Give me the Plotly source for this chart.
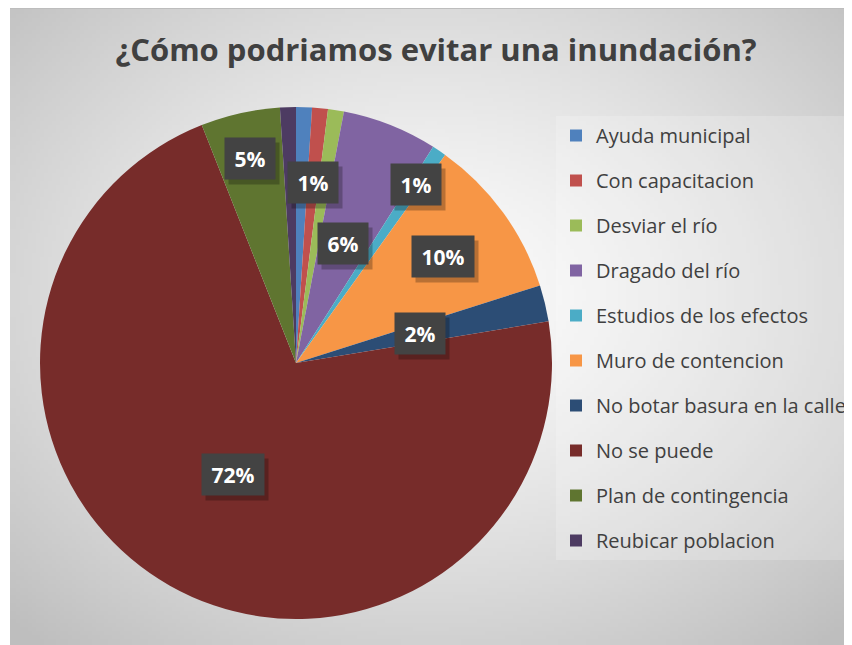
import base64, math, struct, zlib
import plotly.graph_objects as go

# ---------------- data ----------------
categories = ["Ayuda municipal", "Con capacitacion", "Desviar el río", "Dragado del río",
              "Estudios de los efectos", "Muro de contencion", "No botar basura en la calle",
              "No se puede", "Plan de contingencia", "Reubicar poblacion"]
values = [1.0, 1.0, 1.0, 6.0, 0.9, 10.2, 2.3, 71.6, 5.0, 1.0]
colors = ["#4F81BD", "#C0504D", "#9BBB59", "#8064A2", "#4BACC6",
          "#F79646", "#2C4D75", "#772C2A", "#5F7530", "#4D3B62"]
# which data labels are displayed and at what fraction of the radius
label_radius = [None, 0.71, None, 0.50, 0.84, 0.71, 0.50, 0.50, 0.82, None]

OFF = 8                      # page margin of the html body
W, H = 852 - OFF, 645 - OFF  # figure size
CX, CY, R = 296, 363, 256    # pie centre / radius in page pixels


def px2x(px):
    return (px - OFF) / W


def py2y(py):
    return 1 - (py - OFF) / H


# ---------------- background gradient (PNG built in memory) ----------------
def make_png(w, h):
    rows = []
    for j in range(h):
        row = bytearray([0])
        for i in range(w):
            dx = (i + 0.5) / w - 0.5
            dy = (j + 0.5) / h - 0.45
            t = min(1.0, math.sqrt(dx * dx + dy * dy) / 0.72)
            v = int(round(252 - (252 - 190) * t ** 1.3))
            row += bytes([v, v, v])
        rows.append(bytes(row))
    raw = b"".join(rows)

    def chunk(tag, data):
        c = struct.pack(">I", len(data)) + tag + data
        return c + struct.pack(">I", zlib.crc32(tag + data) & 0xffffffff)
    png = b"\x89PNG\r\n\x1a\n"
    png += chunk(b"IHDR", struct.pack(">IIBBBBB", w, h, 8, 2, 0, 0, 0))
    png += chunk(b"IDAT", zlib.compress(raw, 9))
    png += chunk(b"IEND", b"")
    return "data:image/png;base64," + base64.b64encode(png).decode()


bg_src = make_png(210, 160)

fig = go.Figure()

fig.add_trace(go.Pie(
    labels=categories, values=values, sort=False, direction="clockwise", rotation=0,
    marker=dict(colors=colors, line=dict(width=0)),
    textinfo="none", hoverinfo="label+percent", showlegend=False,
    domain=dict(x=[px2x(CX - R), px2x(CX + R)], y=[py2y(CY + R), py2y(CY - R)]),
))

# legend entries (one group each for spacing)
for name, col in zip(categories, colors):
    fig.add_trace(go.Scatter(
        x=[None], y=[None], mode="markers", name=name, legendgroup=name,
        marker=dict(symbol="square", size=14, color=col), showlegend=True,
    ))

# data labels computed from the values
total = sum(values)
annotations = []
cum = 0.0
for v, rr in zip(values, label_radius):
    mid = (cum + v / 2) / total * 2 * math.pi
    cum += v
    if rr is None:
        continue
    px = CX + rr * R * math.sin(mid)
    py = CY - rr * R * math.cos(mid)
    pct = round(v / total * 100)
    bw = 50 if pct < 10 else 62
    bh = 41
    common = dict(xref="paper", yref="paper", xanchor="center", yanchor="middle",
                  showarrow=False, borderpad=0, width=bw, height=bh)
    annotations.append(dict(common, text=" ", x=px2x(px + 4), y=py2y(py + 5),
                            bgcolor="rgba(0,0,0,0.25)",
                            font=dict(family="Open Sans", size=21, color="rgba(0,0,0,0)")))
    annotations.append(dict(common, text=f"<b>{pct}%</b>", x=px2x(px), y=py2y(py),
                            bgcolor="#434343",
                            font=dict(family="Open Sans", size=21, color="white")))

fig.update_layout(
    width=W, height=H, margin=dict(l=0, r=0, t=0, b=0, autoexpand=False),
    paper_bgcolor="white", plot_bgcolor="rgba(0,0,0,0)",
    xaxis=dict(visible=False), yaxis=dict(visible=False),
    title=dict(text="<b>¿Cómo podriamos evitar una inundación?</b>",
               x=px2x(436), xanchor="center", y=py2y(50), yanchor="middle",
               font=dict(family="Open Sans", size=31, color="#404040")),
    legend=dict(x=px2x(556), xanchor="left", y=py2y(116), yanchor="top",
                xref="container", yref="container", maxheight=600,
                bgcolor="rgba(255,255,255,0.2)", borderwidth=0,
                font=dict(family="Open Sans", size=20, color="#404040"),
                tracegroupgap=16, itemsizing="constant", itemwidth=30),
    images=[dict(source=bg_src, xref="paper", yref="paper", x=px2x(10), y=py2y(8),
                 sizex=1 - px2x(10), sizey=py2y(8), xanchor="left", yanchor="top",
                 sizing="stretch", layer="below")],
    shapes=[dict(type="line", xref="paper", yref="paper", x0=px2x(10), x1=1,
                 y0=py2y(8.5), y1=py2y(8.5),
                 line=dict(color="#bdbdbd", width=1), layer="below")],
    annotations=annotations,
)

fig.write_html("out.html")
